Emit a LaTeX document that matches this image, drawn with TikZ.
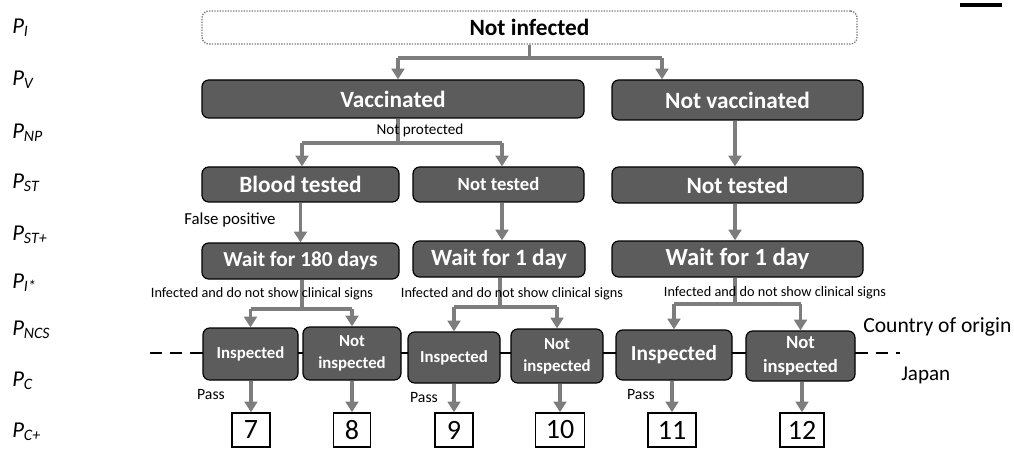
\documentclass[tikz,border=0pt]{standalone}
\usepackage{fontspec}
\setmainfont{Carlito}
\usetikzlibrary{arrows.meta,positioning,backgrounds}
\definecolor{dBox}{RGB}{92,92,92}
\definecolor{aGray}{RGB}{125,125,125}
\definecolor{eGray}{RGB}{120,120,120}

\begin{document}
\begin{tikzpicture}[x=0.75pt,y=-0.75pt,
  db/.style={draw=black,fill=dBox,rounded corners=5pt,text=white,align=center,inner sep=0pt,line width=0.9pt},
  wb/.style={draw=eGray,densely dotted,fill=white,rounded corners=5pt,inner sep=0pt,line width=1pt},
  nb/.style={draw=black,fill=white,inner sep=0pt,line width=1.1pt,minimum height=25.5pt,font=\fontsize{21}{21}\selectfont},
  fA/.style={font=\fontsize{17.5}{20}\selectfont\bfseries},
  fB/.style={font=\fontsize{12.6}{16.5}\selectfont\bfseries},
  ar/.style={-{Triangle[length=8pt,width=9.5pt]},line width=2.8pt,draw=aGray},
  ln/.style={line width=2.8pt,draw=aGray},
  bd/.style={line width=1.5pt,black},
  lb/.style={font=\fontsize{10.7}{12}\selectfont,inner sep=0pt},
  tx/.style={font=\fontsize{16.2}{18}\selectfont,inner sep=0pt,anchor=west},
  pl/.style={font=\fontsize{17}{17}\selectfont\itshape,inner sep=0pt,anchor=west}]
\useasboundingbox (0,0) rectangle (1014,449);
% top levels
\node[wb,fA,minimum width=491.25pt,minimum height=24.75pt] (ninf) at (529.5,27.5) {Not infected};
\node[db,fA,minimum width=286.5pt,minimum height=28.5pt] (vac) at (393,99) {Vaccinated};
\node[db,fA,minimum width=188.25pt,minimum height=30pt] (nvac) at (737.5,100) {Not vaccinated};
\node[db,fA,minimum width=147.75pt,minimum height=26.25pt] (blood) at (300.5,184.5) {Blood tested};
\node[db,font=\fontsize{14}{16}\selectfont\bfseries,minimum width=128.25pt,minimum height=26.25pt] (ntestA) at (498.5,184.5) {Not tested};
\node[db,fA,minimum width=188.25pt,minimum height=27pt] (ntestB) at (737.5,185) {Not tested};
\node[db,font=\fontsize{16}{18}\selectfont\bfseries,minimum width=147.75pt,minimum height=27pt] (waitL) at (300.5,261) {Wait for 180 days};
\node[db,fA,minimum width=129pt,minimum height=27pt] (waitM) at (499,259) {Wait for 1 day};
\node[db,font=\fontsize{18.5}{20}\selectfont\bfseries,minimum width=188.25pt,minimum height=27pt] (waitR) at (737.5,259) {Wait for 1 day};
% inspection row
\node[db,fB,minimum width=71.25pt,minimum height=39pt] (inspA) at (250.5,354) {Inspected};
\node[db,fB,minimum width=73.5pt,minimum height=39.75pt] (ninspA) at (352,353.5) {Not\\inspected};
\node[db,fB,minimum width=69pt,minimum height=38.25pt] (inspB) at (454,357.5) {Inspected};
\node[db,fB,minimum width=69pt,minimum height=40.5pt] (ninspB) at (557,356) {Not\\inspected};
\node[db,font=\fontsize{16}{18}\selectfont\bfseries,minimum width=87pt,minimum height=37.5pt] (inspC) at (674,355) {Inspected};
\node[db,font=\fontsize{14}{18}\selectfont\bfseries,minimum width=81.75pt,minimum height=37.5pt] (ninspC) at (800.5,356) {Not\\inspected};
% outcomes
\node[nb,minimum width=28.5pt] (n7) at (251,430) {7};
\node[nb,minimum width=27.75pt] (n8) at (352,430) {8};
\node[nb,minimum width=28.5pt] (n9) at (454,430) {9};
\node[nb,minimum width=36.75pt] (n10) at (560,430) {10};
\node[nb,minimum width=36pt] (n11) at (672,430) {11};
\node[nb,minimum width=33pt] (n12) at (802,430) {12};
\node[fill=black,inner sep=0pt,minimum width=31.5pt,minimum height=3pt] (wm) at (981,5) {};
% border line
\coordinate (bl) at (150,353);
\coordinate (br) at (900,353);
\begin{scope}[on background layer]
 \draw[bd] (inspA.west |- bl) -- (ninspC.east |- bl);
\end{scope}
\draw[bd,dash pattern=on 9pt off 6pt] (bl) -- (inspA.west |- bl);
\draw[bd,dash pattern=on 9pt off 6pt] (ninspC.east |- bl) -- (br);
% branches
\coordinate (jvA) at (398,58);  \coordinate (jvB) at (662,58);
\draw[ln] (ninf.south) -- (ninf.south |- jvA);
\draw[ln] (jvA) -- (jvB);
\draw[ar] (jvA) -- (jvA |- vac.north);
\draw[ar] (jvB) -- (jvB |- nvac.north);
\coordinate (jp) at (398,143);
\coordinate (jpA) at (302,143); \coordinate (jpB) at (502,143);
\draw[ln] (jp |- vac.south) -- (jp);
\draw[ln] (jpA) -- (jpB);
\draw[ar] (jpA) -- (jpA |- blood.north);
\draw[ar] (jpB) -- (jpB |- ntestA.north);
\draw[ar] (nvac.south -| 735,0) -- (ntestB.north -| 735,0);
\draw[ar] (blood) -- (waitL);
\draw[ar] (ntestA.south -| 502,0) -- (waitM.north -| 502,0);
\draw[ar] (ntestB.south -| 735,0) -- (waitR.north -| 735,0);
\foreach \w/\a/\b/\y/\x in {waitL/inspA/ninspA/309/302,waitM/inspB/ninspB/307/500,waitR/inspC/ninspC/304/735}{
 \coordinate (jw) at (\x,\y);
 \draw[ln] (jw |- \w.south) -- (jw);
 \draw[ln] (jw -| \a) -- (jw -| \b);
 \draw[ar] (jw -| \a) -- (\a.north);
 \draw[ar] (jw -| \b) -- (\b.north);
}
\foreach \a/\b in {inspA/n7,ninspA/n8,inspB/n9,ninspB/n10,inspC/n11,ninspC/n12}
 \draw[ar] (\b.north |- \a.south) -- (\b.north);
% labels
\node[lb,font=\fontsize{11.4}{12}\selectfont] (lnp) at (420,130) {Not protected};
\node[lb,font=\fontsize{12.6}{13}\selectfont] (lfp) at (230,220) {False positive};
\node[lb] (liA) at (262,294) {Infected and do not show clinical signs};
\node[lb] (liB) at (512,294) {Infected and do not show clinical signs};
\node[lb] (liC) at (775,293) {Infected and do not show clinical signs};
\foreach \x/\y/\n in {211/395/pA,424/398/pB,641/395/pC}
 \node[lb,font=\fontsize{11.8}{12}\selectfont] (\n) at (\x,\y) {Pass};
\node[tx] (orig) at (863,327) {Country of origin};
\node[tx,font=\fontsize{15.8}{18}\selectfont] (jap) at (901,375) {Japan};
\foreach \s/\y/\n in {I/28/1,V/80/2,NP/133/3,ST/183/4,ST+/235/5,I*/283/6,NCS/330/7,C/381/8,C+/432/9}
 \node[pl] (p\n) at (12,\y) {P\textsubscript{\s}};
\end{tikzpicture}
\end{document}
